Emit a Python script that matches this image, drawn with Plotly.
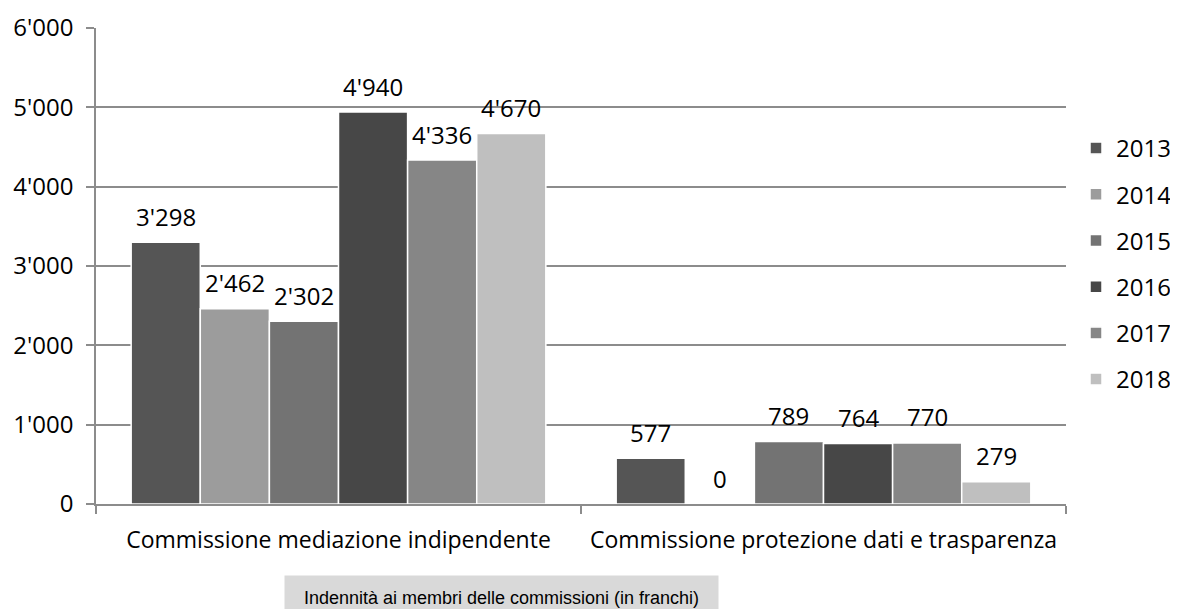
import plotly.graph_objects as go

categories = ["Commissione mediazione indipendente", "Commissione protezione dati e trasparenza"]
years = ["2013", "2014", "2015", "2016", "2017", "2018"]
values = {
    "2013": [3298, 577],
    "2014": [2462, 0],
    "2015": [2302, 789],
    "2016": [4940, 764],
    "2017": [4336, 770],
    "2018": [4670, 279],
}
colors = ["#555555", "#9c9c9c", "#737373", "#474747", "#868686", "#bfbfbf"]
y_ticks = [0, 1000, 2000, 3000, 4000, 5000, 6000]
y_ticktext = ["0", "1'000", "2'000", "3'000", "4'000", "5'000", "6'000"]
title_text = "Indennità ai membri delle commissioni (in franchi)"

# page is rendered with an 8px body margin; figure coordinates = page - 8
OFF = 8
W, H = 1178 - 2 * OFF, 609 - OFF
ml, mt = 96 - OFF, 28 - OFF
mr = W - (1066 - OFF)
mb = H - (504 - OFF)
bargap = 0.145
FONT = "Open Sans"
FS = 24
FS_CAT = 23

def fmt(v):
    return f"{v:,}".replace(",", "'")

fig = go.Figure()
xs = list(range(len(categories)))
for k, yr in enumerate(years):
    fig.add_trace(go.Bar(
        x=xs, y=values[yr], name=yr,
        marker=dict(color=colors[k], line=dict(color="white", width=1.5)),
        legendgroup=yr,
    ))

bw = (1 - bargap) / len(years)
annotations = []
for k, yr in enumerate(years):
    for i, v in enumerate(values[yr]):
        annotations.append(dict(
            x=i + (k - (len(years) - 1) / 2) * bw, y=v, xref="x", yref="y",
            text=fmt(v), showarrow=False, yanchor="middle", yshift=26,
            font=dict(family=FONT, size=FS, color="#000000"),
        ))

plot_w = W - ml - mr
plot_h = H - mt - mb

def px_x(px):
    return (px - OFF - ml) / plot_w

def px_y(py):
    return (H - mb - (py - OFF)) / plot_h

annotations.append(dict(
    x=px_x(501.5), y=px_y(575), xref="paper", yref="paper",
    xanchor="center", yanchor="top", showarrow=False,
    text=title_text, bgcolor="#d9d9d9", width=433, height=44, valign="middle",
    borderpad=0,
    font=dict(family="Liberation Sans", size=18, color="#000000"),
))

fig.update_layout(
    width=W, height=H,
    margin=dict(l=ml, r=mr, t=mt, b=mb, autoexpand=False),
    barmode="group", bargap=bargap, bargroupgap=0,
    plot_bgcolor="white", paper_bgcolor="white",
    font=dict(family=FONT, size=FS, color="#000000"),
    annotations=annotations,
    legend=dict(
        x=px_x(1076), y=px_y(126), xanchor="left", yanchor="top",
        traceorder="grouped", tracegroupgap=12,
        font=dict(family=FONT, size=FS, color="#000000"),
        bgcolor="rgba(0,0,0,0)", itemwidth=30,
    ),
    showlegend=True,
)
fig.update_xaxes(
    range=[-0.5, 1.5], tickmode="array", tickvals=xs, ticktext=categories,
    ticks="", ticklabelstandoff=15, automargin=False,
    showline=True, linecolor="#8c8c8c", linewidth=1.5,
    showgrid=False, zeroline=False,
    minor=dict(tickmode="array", tickvals=[-0.5, 0.5, 1.5], ticks="outside",
               ticklen=8, tickcolor="#8c8c8c", tickwidth=1.5, showgrid=False),
    tickfont=dict(family=FONT, size=FS_CAT),
)
fig.update_yaxes(
    range=[0, 6000], tickmode="array", tickvals=y_ticks, ticktext=y_ticktext,
    ticks="outside", ticklen=8, tickcolor="#8c8c8c", tickwidth=1.5,
    ticklabelstandoff=8, automargin=False,
    showline=True, linecolor="#8c8c8c", linewidth=1.5,
    showgrid=True, gridcolor="#8c8c8c", gridwidth=1.5, zeroline=False,
    tickfont=dict(family=FONT, size=FS),
)

fig.write_html("out.html")
